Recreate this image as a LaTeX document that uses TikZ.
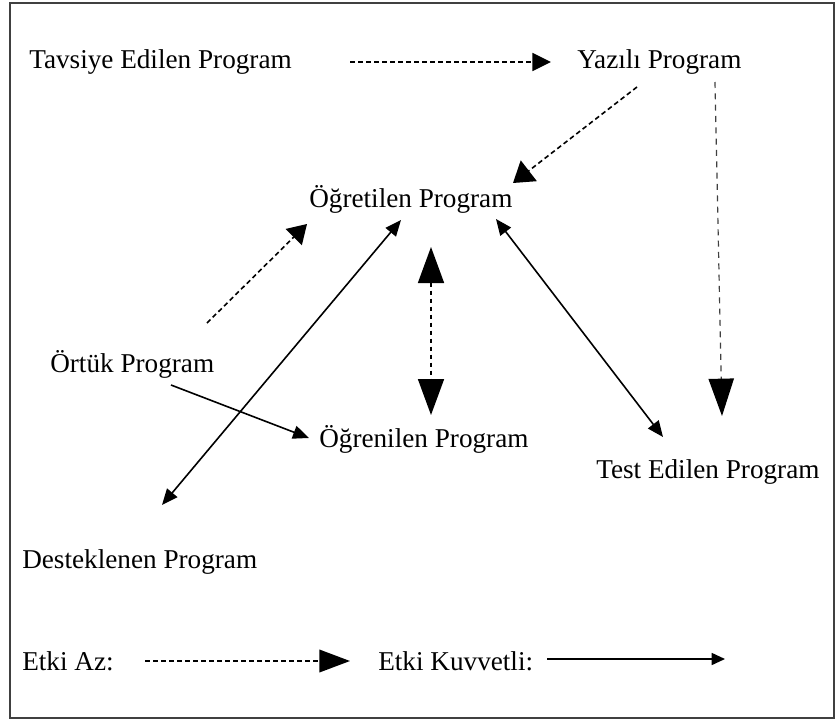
\documentclass[tikz,border=0pt]{standalone}
\usepackage{fontspec}
\setmainfont{Liberation Serif}
\usetikzlibrary{arrows.meta}
\begin{document}
\begin{tikzpicture}[x=0.75pt,y=-0.75pt,
  lbl/.style={anchor=west,inner sep=0pt,font=\fontsize{20.4}{24}\selectfont},
  weak/.style={line width=1.2pt,dash pattern=on 3.6pt off 2.4pt},
  faint/.style={line width=0.9pt,dash pattern=on 4.5pt off 4pt,draw=black!75},
  strong/.style={line width=1.2pt},
  head/.style 2 args={-{Triangle[length=#1,width=#2,color=black]}},
  heads/.style 2 args={{Triangle[length=#1,width=#2]}-{Triangle[length=#1,width=#2]}},
  frame/.style={line width=1.5pt,draw=black!75}]
\useasboundingbox (0,0) rectangle (839,725);
\draw[frame] (10,3) rectangle (834,718);

% curriculum labels
\node[lbl] (tav)  at (29,62)  {Tavsiye Edilen Program};
\node[lbl] (yaz)  at (577,62) {Yazılı Program};
\node[lbl] (ogt)  at (309,199) {Öğretilen Program};
\node[lbl] (ort)  at (50,364) {Örtük Program};
\node[lbl] (ogn)  at (319,439) {Öğrenilen Program};
\node[lbl] (test) at (596,472) {Test Edilen Program};
\node[lbl] (des)  at (22,562) {Desteklenen Program};
\node[lbl] (az)   at (22,661) {Etki Az:};
\node[lbl] (kuv)  at (378,661) {Etki Kuvvetli:};

% connector end points
\coordinate (tavOut) at (350,62);
\coordinate (yazIn)  at (551,62);
\coordinate (yazA)   at (637,87);
\coordinate (ogtA)   at (513,183);
\coordinate (yazB)   at (715,82);
\coordinate (testA)  at (722,416);
\coordinate (ortA)   at (207,323);
\coordinate (ogtB)   at (307,224);
\coordinate (ogtC)   at (431,247);
\coordinate (ognA)   at (431,415);
\coordinate (desA)   at (162,505);
\coordinate (ogtD)   at (401,220);
\coordinate (ortB)   at (171,385);
\coordinate (ognB)   at (309,438);
\coordinate (ogtE)   at (496,219);
\coordinate (testB)  at (663,437);
\coordinate (azS)    at (145,661);
\coordinate (azE)    at (350,661);
\coordinate (kuvS)   at (547,659);
\coordinate (kuvE)   at (725,659);

% weak influence
\draw[weak,head={14pt}{13.5pt}] (tavOut) -- (yazIn);
\draw[weak,head={15pt}{19.5pt}] (yazA) -- (ogtA);
\draw[faint,head={28pt}{19pt}] (yazB) -- (testA);
\draw[weak,head={14pt}{17pt}] (ortA) -- (ogtB);
\draw[weak,heads={27pt}{19.5pt}] (ogtC) -- (ognA);

% strong influence
\draw[strong,heads={12pt}{10pt}] (desA) -- (ogtD);
\draw[strong,head={12pt}{10pt}] (ortB) -- (ognB);
\draw[strong,heads={12pt}{10pt}] (ogtE) -- (testB);

% legend
\draw[weak,head={23pt}{17pt}] (azS) -- (azE);
\draw[strong,head={10pt}{9pt}] (kuvS) -- (kuvE);
\end{tikzpicture}
\end{document}
